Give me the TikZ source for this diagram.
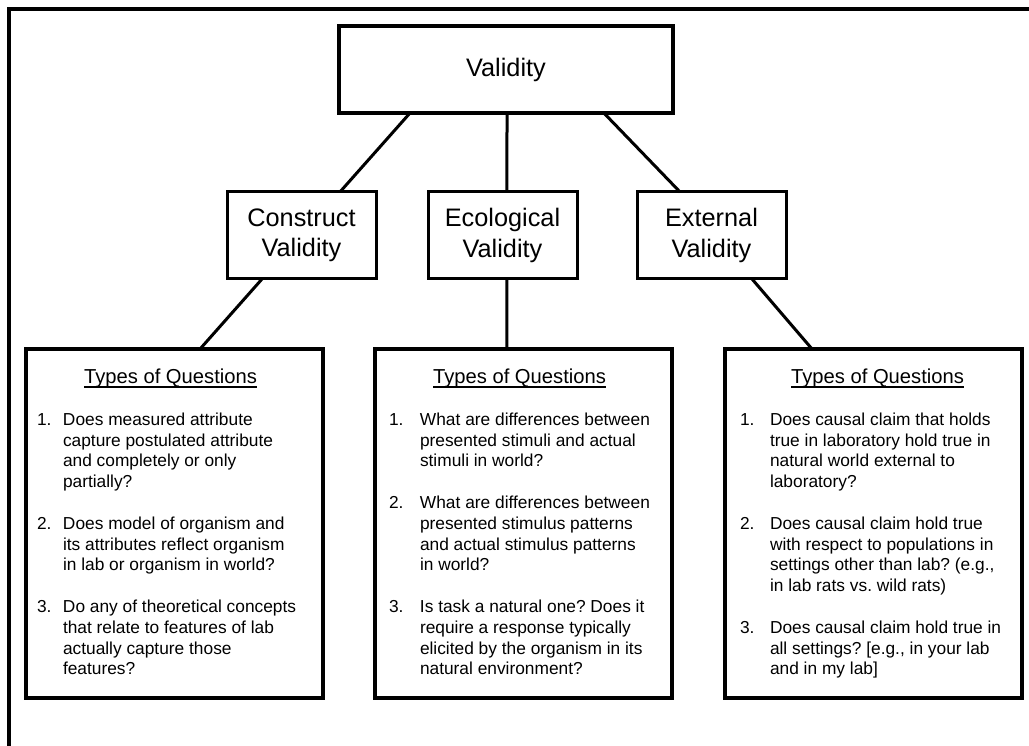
\documentclass[tikz,border=0pt]{standalone}
\usepackage{fontspec}
\setmainfont{Liberation Sans}
\usetikzlibrary{calc}
\frenchspacing
\newlength\numx
\newlength\textx
\newcommand{\ulin}[1]{\setbox0\hbox{#1}\rlap{\rule[-4pt]{\wd0}{1.4pt}}\box0}
\newcommand{\nln}[2]{\hbox{\hspace*{\numx}\hbox to \dimexpr\textx-\numx\relax{#1\hss}#2}}
\newcommand{\cln}[1]{\hbox{\hspace*{\textx}#1}}
\newcommand{\qgap}{\vspace{21.3pt}}
\newcommand{\qtitle}[1]{\hbox to 297pt{\hss\rule{0pt}{34.5pt}\hspace*{#1}{\fontsize{20.2}{24}\selectfont\ulin{Types of Questions}}\hss}\qgap}
\tikzset{
  frame/.style={line width=4.5pt, line join=miter},
  topbox/.style={draw, line width=4.5pt, inner sep=0pt, outer sep=0pt, minimum width=334pt, minimum height=87pt, font=\fontsize{25.3}{30}\selectfont},
  midbox/.style={draw, line width=3pt, inner sep=0pt, outer sep=0pt, minimum width=149pt, minimum height=87pt, align=center, font=\fontsize{25.3}{30.5}\selectfont},
  qbox/.style={draw, line width=3.3pt, inner sep=0pt, outer sep=0pt},
  conn/.style={line width=3pt}
}
\begin{document}
\begin{tikzpicture}[x=1pt,y=-1pt]
\useasboundingbox (0,0) rectangle (1029,746);
\fill[white] (0,0) rectangle (1029,746);
\draw[frame] (9,760) -- (9,9) -- (1040,9);

\node[topbox] (v) at (506,69.5) {Validity};
\node[midbox] (c) at (301.5,235.5) {Construct\\Validity};
\node[midbox] (e) at (502.5,235.5) {Ecological\\Validity};
\node[midbox] (x) at (711.5,235.5) {External\\Validity};

\node[qbox] (q1) at (174.5,523.5) {\parbox[t][349pt][t]{297pt}{%
\setlength\numx{11pt}\setlength\textx{37pt}\fontsize{17.33}{20.67}\selectfont
\qtitle{-8pt}
\nln{1.}{Does measured attribute}
\cln{capture postulated attribute}
\cln{and completely or only}
\cln{partially?}
\qgap
\nln{2.}{Does model of organism and}
\cln{its attributes reflect organism}
\cln{in lab or organism in world?}
\qgap
\nln{3.}{Do any of theoretical concepts}
\cln{that relate to features of lab}
\cln{actually capture those}
\cln{features?}
}};

\node[qbox] (q2) at (523.5,523.5) {\parbox[t][349pt][t]{297pt}{%
\setlength\numx{14pt}\setlength\textx{45pt}\fontsize{17.33}{20.67}\selectfont
\qtitle{-8pt}
\nln{1.}{What are differences between}
\cln{presented stimuli and actual}
\cln{stimuli in world?}
\qgap
\nln{2.}{What are differences between}
\cln{presented stimulus patterns}
\cln{and actual stimulus patterns}
\cln{in world?}
\qgap
\nln{3.}{Is task a natural one? Does it}
\cln{require a response typically}
\cln{elicited by the organism in its}
\cln{natural environment?}
}};

\node[qbox] (q3) at (873.5,523.5) {\parbox[t][349pt][t]{297pt}{%
\setlength\numx{15pt}\setlength\textx{45pt}\fontsize{17.33}{20.67}\selectfont
\qtitle{8pt}
\nln{1.}{Does causal claim that holds}
\cln{true in laboratory hold true in}
\cln{natural world external to}
\cln{laboratory?}
\qgap
\nln{2.}{Does causal claim hold true}
\cln{with respect to populations in}
\cln{settings other than lab? (e.g.,}
\cln{in lab rats vs. wild rats)}
\qgap
\nln{3.}{Does causal claim hold true in}
\cln{all settings? [e.g., in your lab}
\cln{and in my lab]}
}};

\draw[conn] ($(v.south west)!0.2126!(v.south east)$) -- ($(c.north west)!0.758!(c.north east)$);
\draw[conn] ($(v.south west)!0.503!(v.south east)$) -- ($(e.north west)!0.53!(e.north east)$);
\draw[conn] ($(v.south west)!0.793!(v.south east)$) -- ($(x.north west)!0.289!(x.north east)$);
\draw[conn] ($(c.south west)!0.235!(c.south east)$) -- ($(q1.north west)!0.586!(q1.north east)$);
\draw[conn] ($(e.south west)!0.53!(e.south east)$) -- ($(q2.north west)!0.444!(q2.north east)$);
\draw[conn] ($(x.south west)!0.772!(x.south east)$) -- ($(q3.north west)!0.293!(q3.north east)$);
\end{tikzpicture}
\end{document}
